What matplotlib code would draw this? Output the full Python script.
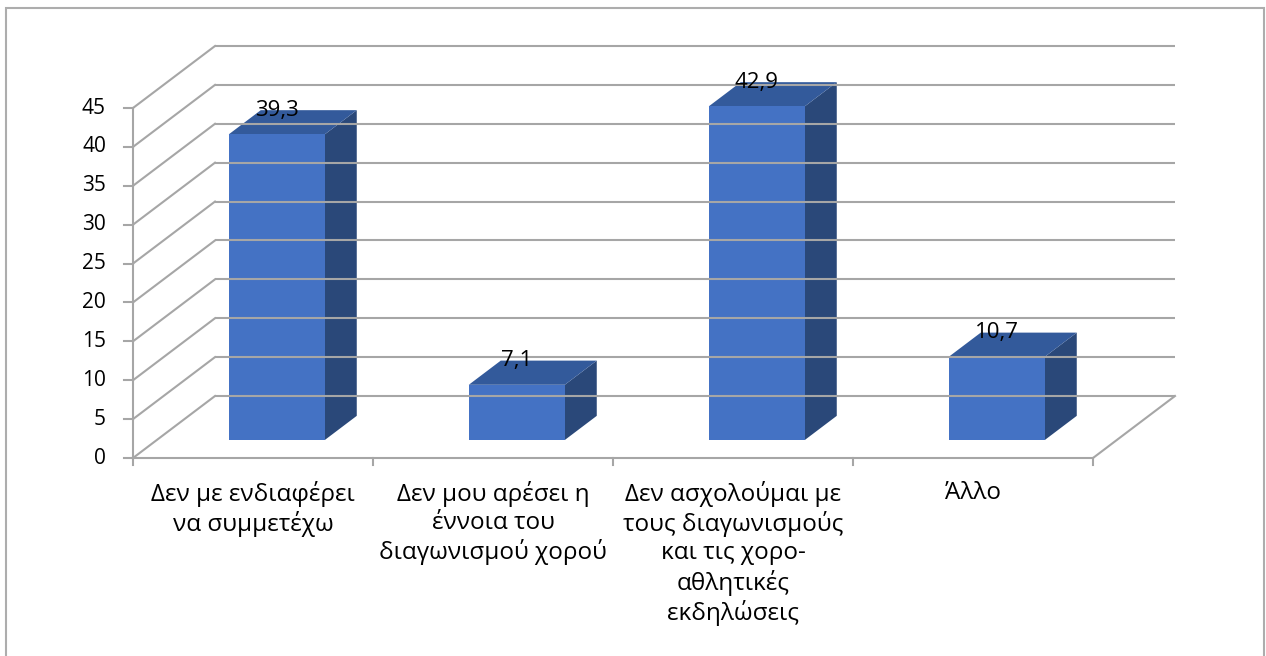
import matplotlib
matplotlib.use("Agg")
import matplotlib.pyplot as plt
from matplotlib.patches import Polygon, Rectangle
import numpy as np

plt.rcParams['font.family'] = ['Open Sans', 'DejaVu Sans']

categories = [
    "Δεν με ενδιαφέρει\nνα συμμετέχω",
    "Δεν μου αρέσει η\nέννοια του\nδιαγωνισμού χορού",
    "Δεν ασχολούμαι με\nτους διαγωνισμούς\nκαι τις χορο-\nαθλητικές\nεκδηλώσεις",
    "Άλλο",
]
values = [39.3, 7.1, 42.9, 10.7]
value_labels = ["39,3", "7,1", "42,9", "10,7"]
yticks = [0, 5, 10, 15, 20, 25, 30, 35, 40, 45]

W, H = 1266, 656
fig = plt.figure(figsize=(W / 100, H / 100), dpi=100)
ax = fig.add_axes([0, 0, 1, 1])
ax.set_axis_off()

# layout: pixel mapping
x0_px, px_per_cat = 133, 240
y0_px, px_per_unit = 458, 350 / 45
ax.set_xlim(-x0_px / px_per_cat, (W - x0_px) / px_per_cat)
ax.set_ylim(-(H - y0_px) / px_per_unit, y0_px / px_per_unit)

# depth vector (data units)
DX, DY = 82 / px_per_cat, 62 / px_per_unit
ncat = len(categories)
ymax = yticks[-1]

grid_c = "#A6A6A6"
lw = 1.5

# back wall gridlines and side wall diagonals
for t in yticks:
    ax.plot([DX, ncat + DX], [t + DY, t + DY], color=grid_c, lw=lw, solid_capstyle='butt')
    ax.plot([0, DX], [t, t + DY], color=grid_c, lw=lw)
# floor right edge
ax.plot([ncat, ncat + DX], [0, DY], color=grid_c, lw=lw)
# front axes
ax.plot([0, 0], [0, ymax], color=grid_c, lw=lw)
ax.plot([0, ncat], [0, 0], color=grid_c, lw=lw)
# tick marks
tick_len_x = 9 / px_per_cat
tick_len_y = 7 / px_per_unit
for t in yticks:
    ax.plot([-tick_len_x, 0], [t, t], color=grid_c, lw=lw)
    ax.text(-27 / px_per_cat, t, str(t), ha='right', va='center', fontsize=15, color='black')
for i in range(ncat + 1):
    ax.plot([i, i], [0, -tick_len_y], color=grid_c, lw=lw)

# bars
front_c, top_c, side_c = "#4472C4", "#335A9B", "#2A4879"
bw = 0.40
d0, d1 = 0.29, 0.68
for i, v in enumerate(values):
    xl = i + 0.5 - bw / 2 + d0 * DX
    xr = xl + bw
    yb = d0 * DY
    ddx, ddy = (d1 - d0) * DX, (d1 - d0) * DY
    # side
    ax.add_patch(Polygon([(xr, yb), (xr + ddx, yb + ddy), (xr + ddx, yb + ddy + v), (xr, yb + v)],
                         closed=True, facecolor=side_c, edgecolor='none'))
    # top
    ax.add_patch(Polygon([(xl, yb + v), (xr, yb + v), (xr + ddx, yb + ddy + v), (xl + ddx, yb + ddy + v)],
                         closed=True, facecolor=top_c, edgecolor='none'))
    # front
    ax.add_patch(Rectangle((xl, yb), bw, v, facecolor=front_c, edgecolor='none'))
    ax.text((xl + xr) / 2, yb + ddy + v, value_labels[i], ha='center', va='center',
            fontsize=16, color='black')

# category labels
for i, c in enumerate(categories):
    ax.text(i + 0.5, -(481 - y0_px) / px_per_unit, c, ha='center', va='top',
            fontsize=17.5, color='black', linespacing=1.22)

# outer border
fig.patches.append(Rectangle((5.5 / W, -0.01), (1263.5 - 5.5) / W, 1 - 8.5 / H + 0.01,
                             transform=fig.transFigure, fill=False, edgecolor="#ADADAD", lw=1.5))

fig.savefig("out.png", dpi=100)
